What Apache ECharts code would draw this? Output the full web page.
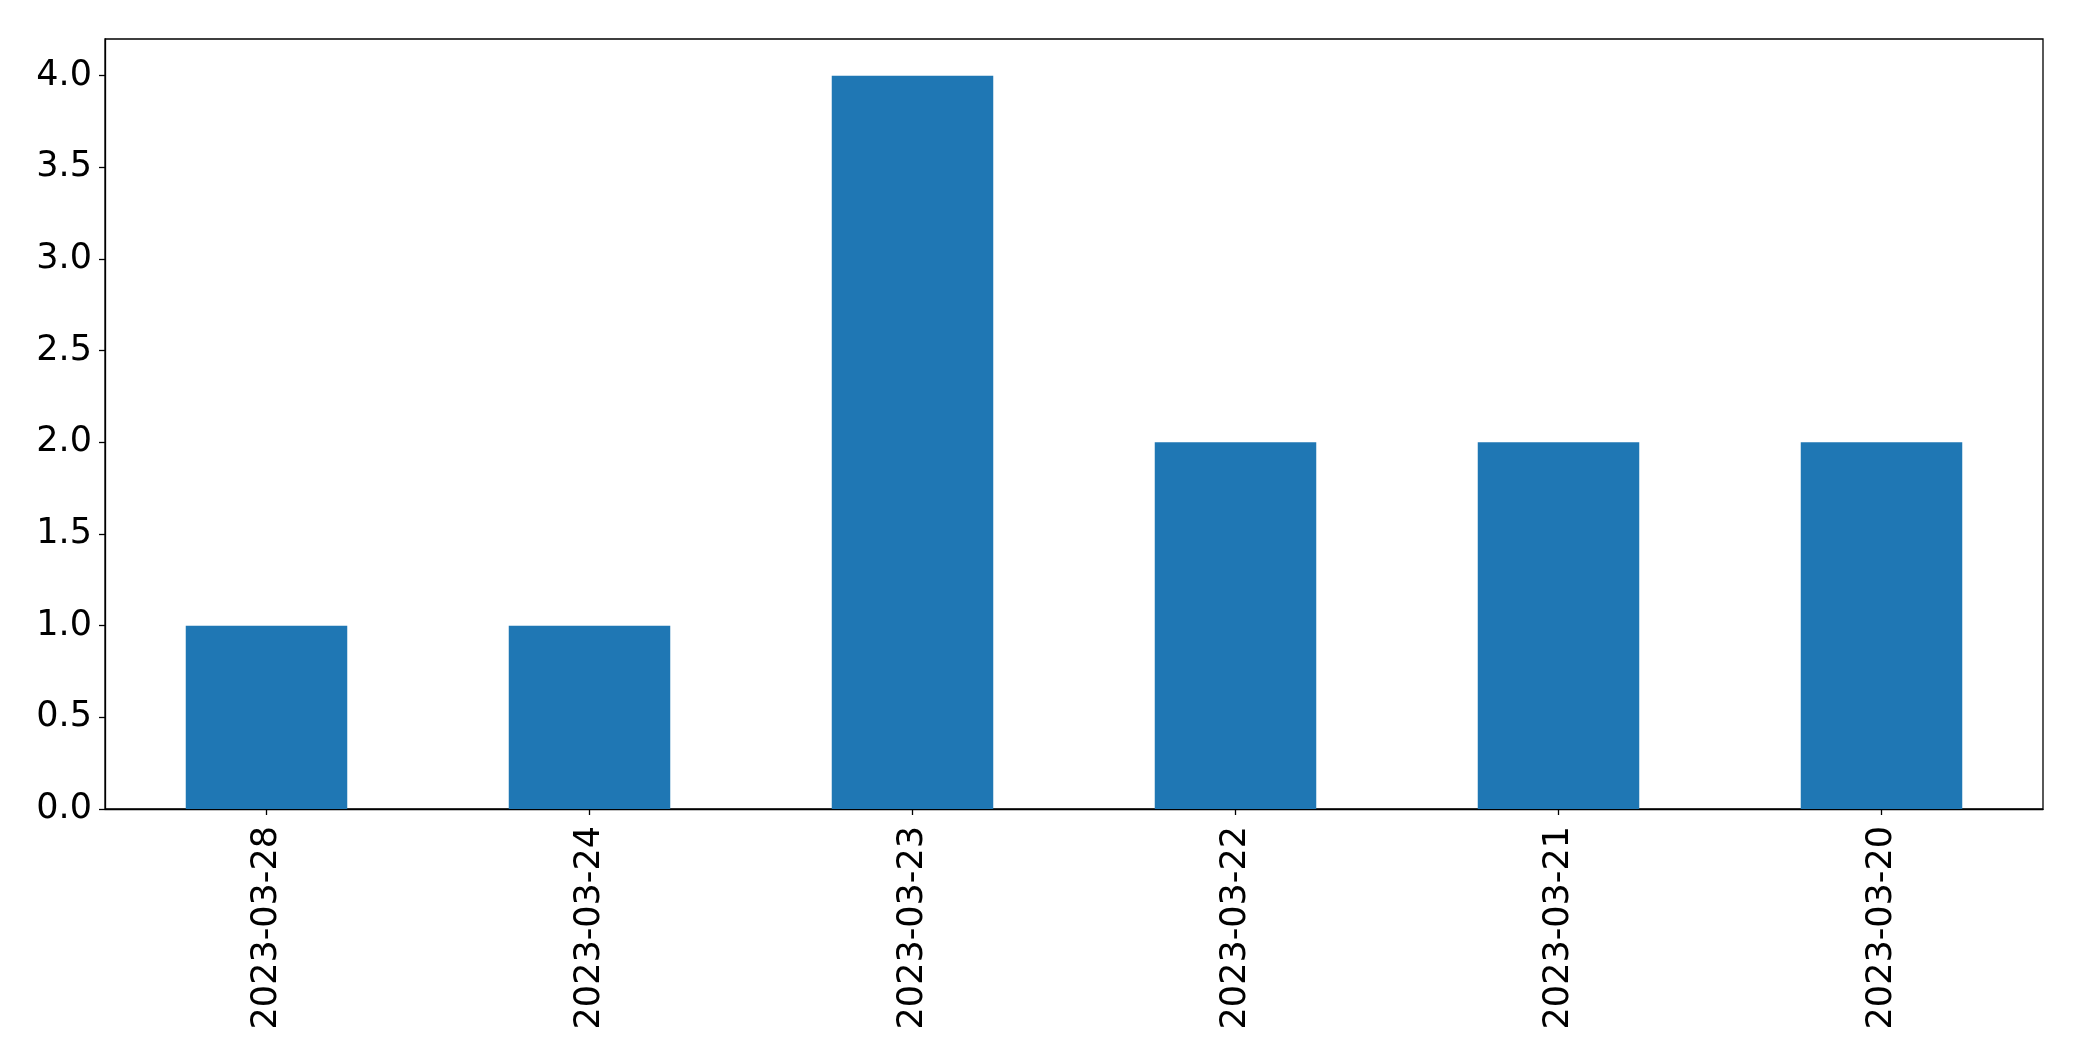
<!DOCTYPE html>
<html>
<head>
<meta charset="utf-8">
<script src="https://cdn.jsdelivr.net/npm/echarts@6/dist/echarts.min.js"></script>
<style>
html,body{margin:0;padding:0;background:#fff;}
#chart{width:2082px;height:1061px;}
</style>
</head>
<body>
<div id="chart"></div>
<script>
const categories = ['2023-03-28','2023-03-24','2023-03-23','2023-03-22','2023-03-21','2023-03-20'];
const counts = [1, 1, 4, 2, 2, 2];

const chart = echarts.init(document.getElementById('chart'), null, {renderer:'canvas'});
const font = 'DejaVu Sans';
chart.setOption({
  animation: false,
  backgroundColor: '#ffffff',
  grid: {left:105, right:39, top:39, bottom:252, show:true, borderColor:'#000', borderWidth:1.3, backgroundColor:'transparent'},
  xAxis: {
    type:'category',
    data: categories,
    axisLine:{show:true, lineStyle:{color:'#000', width:1.3}},
    axisTick:{show:true, alignWithLabel:true, length:6, lineStyle:{color:'#000', width:1.3}},
    axisLabel:{rotate:90, fontSize:35, fontFamily:font, color:'#000', margin:17},
    splitLine:{show:false}
  },
  yAxis: {
    type:'value',
    min:0, max:4.2, interval:0.5,
    axisLine:{show:true, lineStyle:{color:'#000', width:1.3}},
    axisTick:{show:true, length:6, lineStyle:{color:'#000', width:1.3}},
    axisLabel:{fontSize:35, fontFamily:font, color:'#000', margin:13, showMaxLabel:false,
      formatter: v => v.toFixed(1)},
    splitLine:{show:false}
  },
  series: [{
    type:'bar',
    data: counts,
    barWidth:'50%',
    itemStyle:{color:'#1f77b4'}
  }]
});
</script>
</body>
</html>
